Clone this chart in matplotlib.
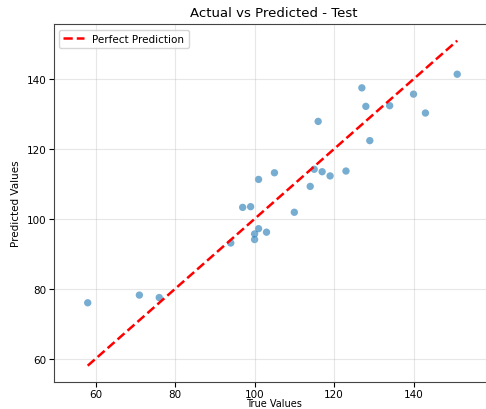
import matplotlib.pyplot as plt
import numpy as np

# values
y_true = [58, 71, 76, 94, 97, 99, 100, 100, 101, 101, 103, 105, 110,
          114, 115, 117, 119, 123, 116, 127, 128, 129, 134, 140, 143, 151]
y_pred = [76.0, 78.2, 77.5, 93.1, 103.3, 103.5, 95.7, 94.1, 97.2, 111.3, 96.2, 113.2, 101.9,
          109.3, 114.2, 113.5, 112.3, 113.7, 127.9, 137.5, 132.2, 122.4, 132.4, 135.7, 130.3, 141.4]

fig = plt.figure(figsize=(4.86, 4.10), dpi=100)
ax = fig.add_axes([0.111, 0.066, 0.905, 0.872])

ax.scatter(y_true, y_pred, alpha=0.6, s=28, color='#1f77b4', edgecolors='none')
lo, hi = min(y_true), max(y_true)
ax.plot([lo, hi], [lo, hi], 'r--', lw=1.8, label='Perfect Prediction')

ax.set_xlim(49.5, 160.2)
ax.set_ylim(53.35, 155.65)
ax.set_xticks([60, 80, 100, 120, 140])
ax.set_yticks([60, 80, 100, 120, 140])
ax.tick_params(labelsize=7.5, pad=2)
ax.tick_params(axis='x', pad=1.5)
ax.set_xlabel('True Values', fontsize=7)
# reference has the label squeezed against the bottom edge
ax.xaxis.set_label_coords(0.5, -0.072)
ax.xaxis.label.set_va('bottom')
ax.set_ylabel('Predicted Values', fontsize=7.5)
ax.set_title('Actual vs Predicted - Test', fontsize=9.5)
ax.legend(loc='upper left', fontsize=7.5)
ax.grid(True, alpha=0.3)
for s in ax.spines.values():
    s.set_color('#444444')

fig.savefig('out.png', dpi=100)
